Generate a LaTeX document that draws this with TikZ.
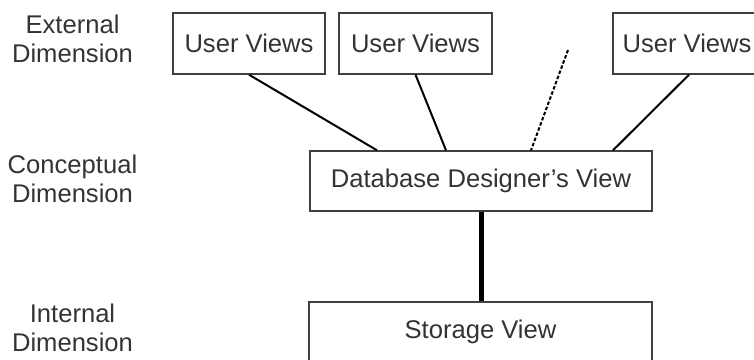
\documentclass[tikz,border=0pt]{standalone}
\usepackage{fontspec}
\setmainfont{Liberation Sans}
\begin{document}
\begin{tikzpicture}[x=1pt,y=-1pt,
  viewbox/.style={draw=black!75, line width=1.4pt, rectangle, inner sep=0pt,
    minimum height=61pt, font=\fontsize{25.6}{29}\selectfont, text=black!80},
  dimlabel/.style={align=center, inner sep=0pt, font=\fontsize{25.6}{29}\selectfont, text=black!80},
  link/.style={line width=2pt, black}]
\useasboundingbox (0,0) rectangle (754,359);
\clip (0,0) rectangle (754,359);

% level labels
\node[dimlabel] (ext) at (72.5,38.5) {External\\Dimension};
\node[dimlabel] (con) at (72.5,179) {Conceptual\\Dimension};
\node[dimlabel] (int) at (72.5,328) {Internal\\Dimension};

% external views
\node[viewbox, minimum width=152pt] (u1) at (249,43.5) {User Views};
\node[viewbox, minimum width=153pt] (u2) at (415.5,43.5) {User Views};
\node[viewbox, minimum width=148pt] (u3) at (687,43.5) {User Views};

% conceptual and internal views
\node[viewbox, minimum width=342pt, minimum height=60pt] (dd) at (481,181) {Database Designer’s View};
\node[viewbox, minimum width=343pt, minimum height=60pt] (st) at (480.5,332) {};
\node[dimlabel] (stlabel) at (480.5,331.5) {Storage View};

% connectors
\coordinate (more) at (568,50);
\draw[link] (u1.south) -- ([xshift=-104pt]dd.north);
\draw[link] (u2.south) -- ([xshift=-35pt]dd.north);
\draw[link, dash pattern=on 3.5pt off 2pt] (more) -- ([xshift=50pt]dd.north);
\draw[link] ([xshift=2pt]u3.south) -- ([xshift=132pt]dd.north);
\draw[line width=5pt, black] (dd.south) -- (dd.south |- st.north);
\end{tikzpicture}
\end{document}
